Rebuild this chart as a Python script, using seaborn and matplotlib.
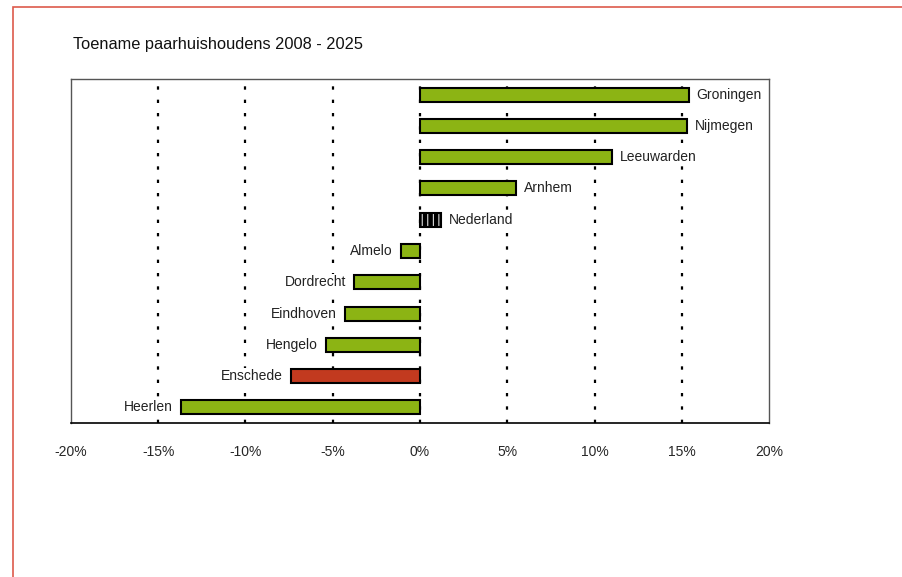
import matplotlib
matplotlib.use("Agg")
import matplotlib.pyplot as plt
import matplotlib.patches as mpatches
import seaborn as sns
import pandas as pd

# data
places = ["Groningen", "Nijmegen", "Leeuwarden", "Arnhem", "Nederland", "Almelo",
          "Dordrecht", "Eindhoven", "Hengelo", "Enschede", "Heerlen"]
growth = [15.4, 15.3, 11.0, 5.5, 1.2, -1.1, -3.8, -4.3, -5.4, -7.4, -13.7]
ticks = [-20, -15, -10, -5, 0, 5, 10, 15, 20]

green = "#8cb414"
red = "#c23a1f"
colors = [green] * len(places)
colors[places.index("Enschede")] = red
colors[places.index("Nederland")] = "white"

df = pd.DataFrame({"place": places, "growth": growth})

sns.set_style("white")
plt.rcParams["font.family"] = ["Liberation Sans", "DejaVu Sans"]
plt.rcParams["hatch.linewidth"] = 3.3

fig = plt.figure(figsize=(9.03, 5.77), dpi=100)
ax = fig.add_axes([71 / 903, 1 - 423 / 577, 698 / 903, 344 / 577])

sns.barplot(data=df, x="growth", y="place", hue="place", palette=colors,
            legend=False, orient="h", width=0.45, edgecolor="black",
            linewidth=1.5, ax=ax, saturation=1)

for patch, name in zip(ax.patches, places):
    if name == "Nederland":
        patch.set_hatch("|||")

# value labels at the bar ends, on a white box so the grid stops behind them
box = dict(facecolor="white", edgecolor="none", pad=1)
for i, (name, val) in enumerate(zip(places, growth)):
    if val >= 0:
        ax.text(val + 0.45, i, name, va="center", ha="left", fontsize=10,
                color="#222222", bbox=box, zorder=5)
    else:
        ax.text(val - 0.45, i, name, va="center", ha="right", fontsize=10,
                color="#222222", bbox=box, zorder=5)

# dotted grid lines
for t in ticks[1:-1]:
    ax.axvline(t, color="black", linestyle=(0, (1.5, 4.5)), linewidth=1.6, zorder=0)

ax.set_xlim(-20, 20)
ax.set_xticks(ticks)
ax.set_xticklabels(["{0}%".format(t) for t in ticks], fontsize=10)
ax.tick_params(axis="x", direction="out", length=6, width=1, color="black", pad=10)
ax.set_yticks([])
ax.set_xlabel("")
ax.set_ylabel("")
for side in ["top", "right", "left"]:
    ax.spines[side].set_color("#555555")
    ax.spines[side].set_linewidth(1)
ax.spines["bottom"].set_color("black")
ax.spines["bottom"].set_linewidth(1.2)

fig.text(73 / 903, 1 - 45 / 577, "Toename paarhuishoudens 2008 - 2025",
         ha="left", va="center", fontsize=11.8, color="#111111")

# red frame at top and left of the picture
frame = mpatches.Rectangle((13 / 903, -0.1), 1.2, 1 - 7 / 577 + 0.1,
                           transform=fig.transFigure, fill=False,
                           edgecolor="#dd5a4c", linewidth=1.2)
fig.patches.append(frame)

fig.savefig("out.png", dpi=100)
